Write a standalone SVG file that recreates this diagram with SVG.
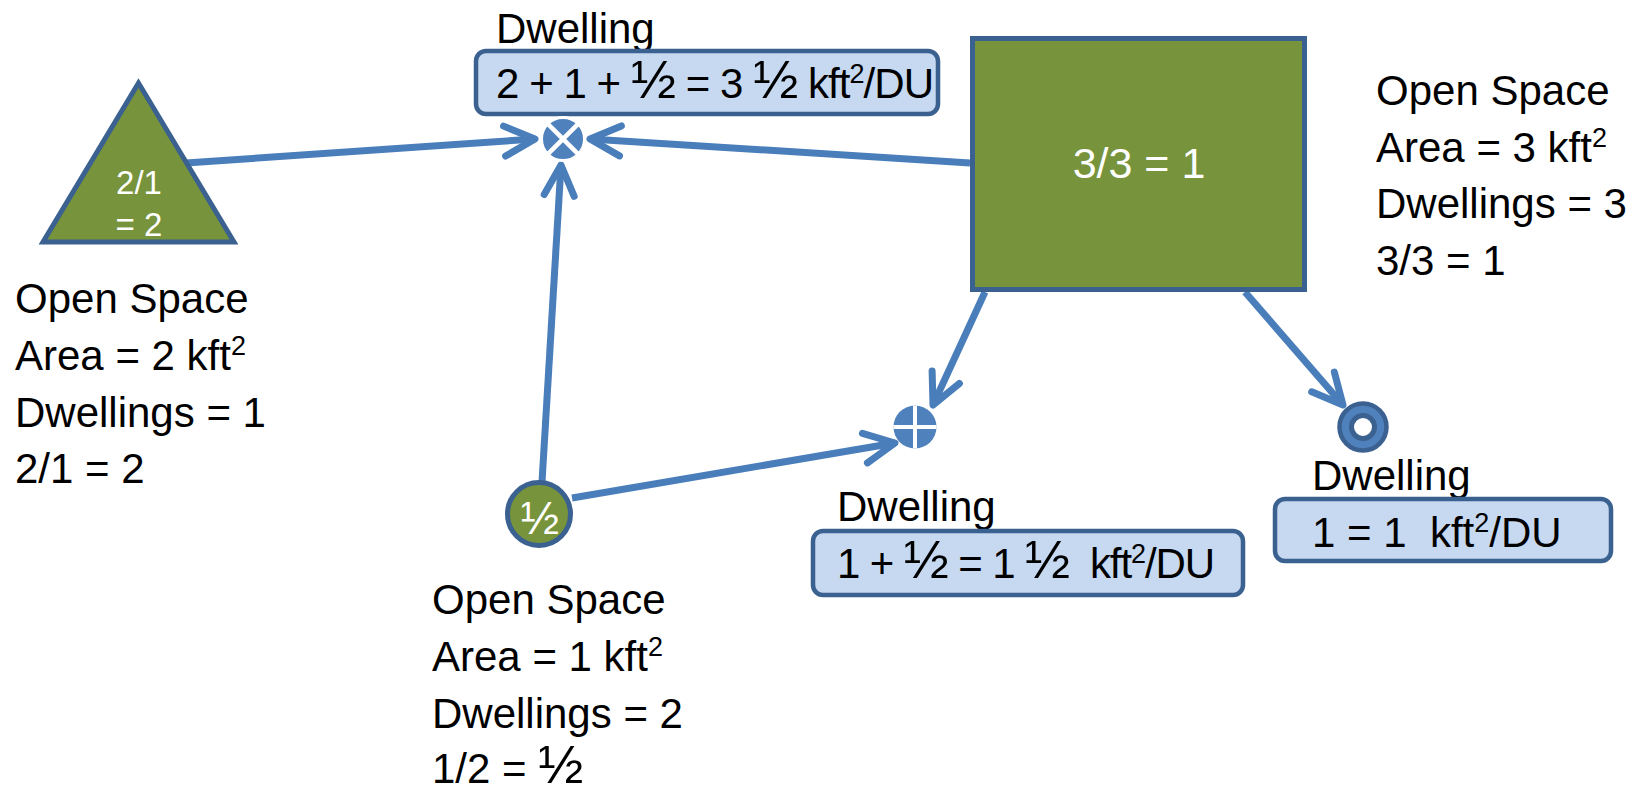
<svg xmlns="http://www.w3.org/2000/svg" width="1643" height="794" viewBox="0 0 1643 794">
<style>
  text { font-family: "Liberation Sans", Arial, sans-serif; fill: #000; }
  .lbl { font-size: 42px; }
  .wt { fill: #fff; }
  .sup { font-size: 27px; }
  .half { font-size: 54px; }
  .conn { fill: none; stroke: #4a7ebb; stroke-width: 7; marker-end: url(#arr); }
  .green { fill: #77933c; stroke: #3b6190; stroke-width: 5; }
  .box { fill: #c6d9f1; stroke: #3b6190; stroke-width: 4.5; }
  .dot { fill: #4f81bd; }
</style>
<defs>
  <marker id="arr" viewBox="-40 -25 50 50" refX="0" refY="0" markerWidth="50" markerHeight="50" markerUnits="userSpaceOnUse" orient="auto">
    <path d="M-30.5,-15 L0,0 L-30.5,15" fill="none" stroke="#4a7ebb" stroke-width="7" stroke-linecap="round" stroke-linejoin="round"/>
  </marker>
</defs>
<rect width="1643" height="794" fill="#fff"/>

<g id="connectors">
  <line class="conn" x1="186" y1="163" x2="535" y2="139"/>
  <line class="conn" x1="970" y1="163" x2="590" y2="139"/>
  <line class="conn" x1="542" y1="482" x2="561" y2="165"/>
  <line class="conn" x1="572" y1="498" x2="895" y2="443"/>
  <line class="conn" x1="985" y1="292" x2="933" y2="405"/>
  <line class="conn" x1="1245" y1="292" x2="1343" y2="405"/>
</g>

<g id="os-triangle">
  <polygon class="green" points="138.5,83 43,242 234,242"/>
  <text class="wt" x="139" y="194" font-size="33" text-anchor="middle">2/1</text>
  <text class="wt" x="139" y="236" font-size="33" text-anchor="middle">= 2</text>
</g>
<g id="os-triangle-info">
  <text class="lbl" x="15" y="313">Open Space</text>
  <text class="lbl" x="15" y="370">Area = 2 kft<tspan class="sup" dy="-15">2</tspan></text>
  <text class="lbl" x="15" y="427">Dwellings = 1</text>
  <text class="lbl" x="15" y="483">2/1 = 2</text>
</g>

<g id="os-square">
  <rect class="green" x="972.5" y="38.5" width="332" height="251"/>
  <text class="wt" x="1139" y="178" font-size="43" text-anchor="middle">3/3 = 1</text>
</g>
<g id="os-square-info">
  <text class="lbl" x="1376" y="105">Open Space</text>
  <text class="lbl" x="1376" y="162">Area = 3 kft<tspan class="sup" dy="-15">2</tspan></text>
  <text class="lbl" x="1376" y="218">Dwellings = 3</text>
  <text class="lbl" x="1376" y="275">3/3 = 1</text>
</g>

<g id="os-circle">
  <circle class="green" cx="539" cy="514" r="31.5"/>
  <text class="wt" x="540" y="534" font-size="46" text-anchor="middle">½</text>
</g>
<g id="os-circle-info">
  <text class="lbl" x="432" y="614">Open Space</text>
  <text class="lbl" x="432" y="671">Area = 1 kft<tspan class="sup" dy="-15">2</tspan></text>
  <text class="lbl" x="432" y="728">Dwellings = 2</text>
  <text class="lbl" x="432" y="783">1/2 = <tspan class="half">½</tspan></text>
</g>

<g id="dwelling-top">
  <text class="lbl" x="496" y="43">Dwelling</text>
  <rect class="box" x="476" y="51" width="462" height="63" rx="10"/>
  <text class="lbl" x="496" y="98" xml:space="preserve" textLength="438" lengthAdjust="spacing">2 + 1 + <tspan class="half">½</tspan> = 3 <tspan class="half">½</tspan> kft<tspan class="sup" dy="-15">2</tspan><tspan dy="15">/DU</tspan></text>
</g>
<g id="merge-x">
  <circle class="dot" cx="563" cy="139" r="21.5" stroke="#fff" stroke-width="3"/>
  <path d="M547.8,123.8 L578.2,154.2 M578.2,123.8 L547.8,154.2" stroke="#fff" stroke-width="4.5"/>
</g>

<g id="dwelling-mid">
  <text class="lbl" x="837" y="521">Dwelling</text>
  <rect class="box" x="813" y="531" width="430" height="64" rx="10"/>
  <text class="lbl" x="837" y="578" xml:space="preserve" textLength="378" lengthAdjust="spacing">1 + <tspan class="half">½</tspan> = 1 <tspan class="half">½</tspan>  kft<tspan class="sup" dy="-15">2</tspan><tspan dy="15">/DU</tspan></text>
</g>
<g id="merge-plus">
  <circle class="dot" cx="915" cy="427" r="21.5"/>
  <path d="M915,405.5 L915,448.5 M893.5,427 L936.5,427" stroke="#fff" stroke-width="4"/>
</g>

<g id="dwelling-right">
  <text class="lbl" x="1312" y="490">Dwelling</text>
  <rect class="box" x="1275" y="499" width="336" height="62" rx="10"/>
  <text class="lbl" x="1312" y="547" xml:space="preserve">1 = 1  kft<tspan class="sup" dy="-15">2</tspan><tspan dy="15">/DU</tspan></text>
</g>
<g id="ring">
  <circle cx="1363" cy="427" r="23.5" fill="#4f81bd" stroke="#3b6190" stroke-width="4.5"/>
  <circle cx="1363" cy="427" r="11.5" fill="#fff" stroke="#3b6190" stroke-width="5"/>
</g>
</svg>
